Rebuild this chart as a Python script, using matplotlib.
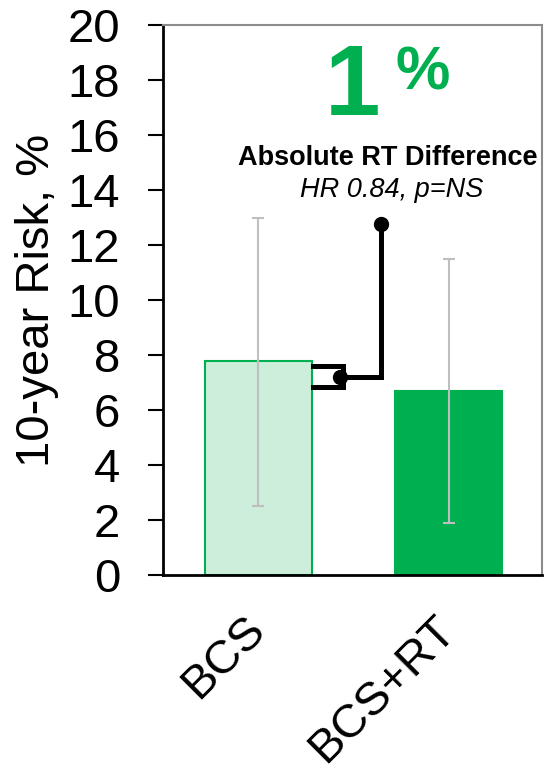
import matplotlib
matplotlib.use("Agg")
import matplotlib.pyplot as plt

plt.rcParams['font.family'] = ['Liberation Sans', 'DejaVu Sans']

# Data
categories = ["BCS", "BCS+RT"]
risk = [7.8, 6.7]
ci_low = [2.5, 1.9]
ci_high = [13.0, 11.5]
y_ticks = [0, 2, 4, 6, 8, 10, 12, 14, 16, 18, 20]

# Difference annotation
bracket_upper = 7.6
bracket_lower = 6.85
bracket_mid = 7.2
callout_top = 12.75
diff_text = "1"
diff_title = "Absolute RT Difference"
diff_stats = "HR 0.84, p=NS"

GREEN = "#00B050"
LIGHT = "#CCEEDB"
GREY = "#BFBFBF"

fig = plt.figure(figsize=(5.44, 7.70), dpi=100)
ax = fig.add_axes([0.2996, 0.2532, 0.6967, 0.7143])

x = list(range(len(categories)))
ax.bar(x, risk, width=0.56, color=[LIGHT, GREEN],
       edgecolor=[GREEN, GREEN], linewidth=1.5, zorder=2)

yerr = [[r - lo for r, lo in zip(risk, ci_low)],
        [hi - r for r, hi in zip(risk, ci_high)]]
ax.errorbar(x, risk, yerr=yerr, fmt="none", ecolor=GREY,
            elinewidth=1.5, capsize=4.5, capthick=1.5, zorder=3)

# Bracket and callout line
bx0, bx1 = 0.288, 0.445
dot_x = 0.43
line_x = 0.644
lw = 3.6
ax.plot([bx0, bx1, bx1, bx0],
        [bracket_upper, bracket_upper, bracket_lower, bracket_lower],
        color="black", lw=lw, solid_joinstyle="miter", zorder=4)
ax.plot([dot_x, line_x, line_x], [bracket_mid, bracket_mid, callout_top],
        color="black", lw=lw, solid_joinstyle="miter", zorder=4)
ax.plot([dot_x, line_x], [bracket_mid, callout_top], "o",
        color="black", ms=10, zorder=5)

ax.text(0.64, 16.73, diff_text, color=GREEN, fontsize=72,
        fontweight="bold", ha="right", va="baseline")
ax.text(0.72, 17.65, "%", color=GREEN, fontsize=44,
        fontweight="bold", ha="left", va="baseline")
ax.text(0.68, 15.15, diff_title, fontsize=19.5, fontweight="bold",
        ha="center", va="center")
ax.text(0.70, 14.0, diff_stats, fontsize=19.5, fontstyle="italic",
        ha="center", va="center")

ax.set_xlim(-0.5, 1.49)
ax.set_ylim(0, 20)
ax.set_yticks(y_ticks)
ax.set_yticklabels([str(t) for t in y_ticks], fontsize=34)

# Category labels, rotated and hung below each bar
ax.set_xticks(x)
ax.set_xticklabels([])
ax.tick_params(axis="x", length=0)
for xi, name in zip(x, categories):
    ax.annotate(name, xy=(xi, 0), xycoords=("data", "axes fraction"),
                xytext=(11.5, -23.5), textcoords="offset points",
                fontsize=34, rotation=45, ha="right", va="top",
                annotation_clip=False)

ax.tick_params(axis="y", length=10.8, width=1.5, pad=20, direction="out")
ax.set_ylabel("10-year Risk, %", fontsize=34, labelpad=6)

for side in ("left", "bottom"):
    ax.spines[side].set_color("black")
    ax.spines[side].set_linewidth(2)
for side in ("top", "right"):
    ax.spines[side].set_color("#8C8C8C")
    ax.spines[side].set_linewidth(1.5)

fig.savefig("out.png", dpi=100)
